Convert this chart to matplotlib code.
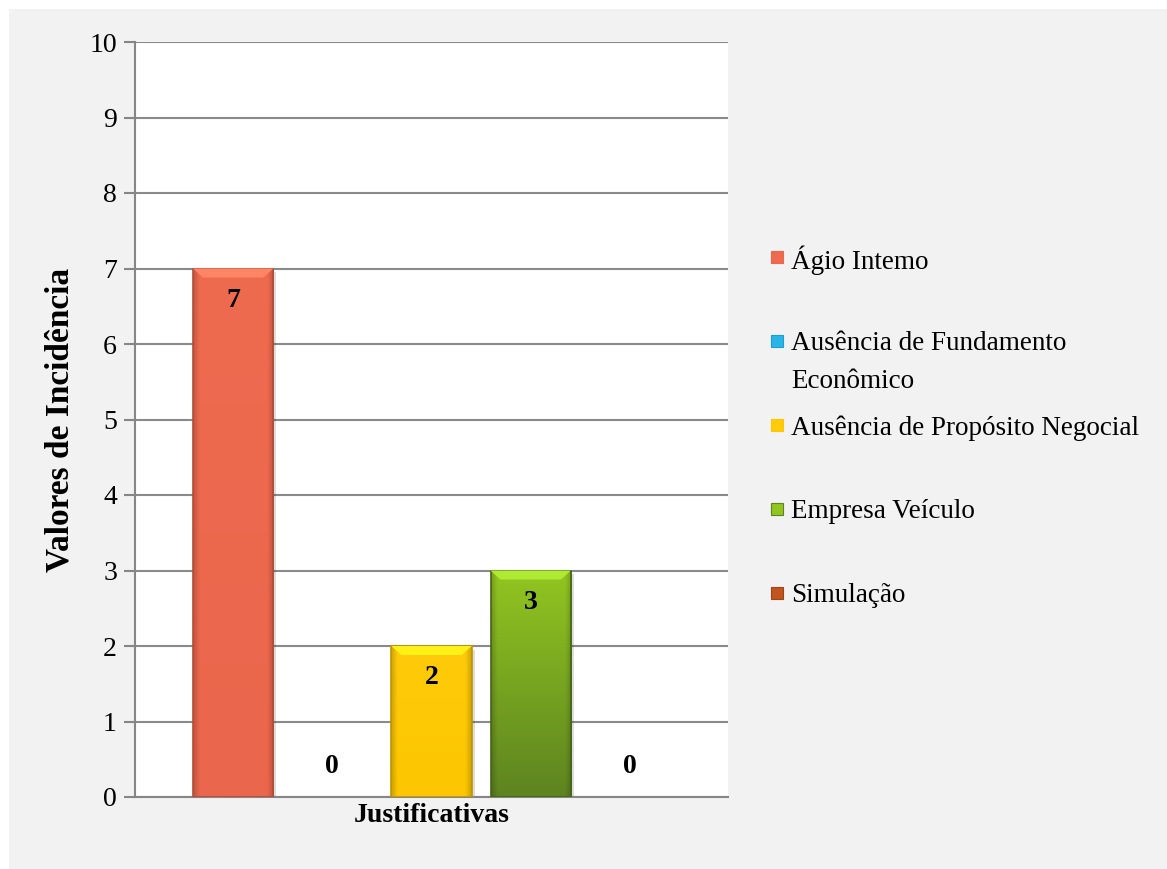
import numpy as np
import matplotlib
matplotlib.use("Agg")
import matplotlib.pyplot as plt
from matplotlib.patches import Rectangle, Polygon
from matplotlib.colors import to_rgb

# data
categorias = ["Ágio Intemo", "Ausência de Fundamento\nEconômico",
              "Ausência de Propósito Negocial", "Empresa Veículo", "Simulação"]
valores = [7, 0, 2, 3, 0]
cor_topo = ["#ef6b50", "#29b6e6", "#ffcb0a", "#92c521", "#c0561c"]
cor_base = ["#ea664c", "#1a9fd0", "#fcc600", "#5d8420", "#a0431a"]
yticks = list(range(0, 11))

plt.rcParams['font.family'] = ['Liberation Serif', 'DejaVu Serif']

W, H = 1167, 869
fig = plt.figure(figsize=(W / 100, H / 100), dpi=100, facecolor="#f2f2f2")
# white strips top/left like the screenshot
fig.patches.append(Rectangle((0, 1 - 9 / H), 1, 9 / H, transform=fig.transFigure,
                             facecolor="white", edgecolor="none", zorder=-5))
fig.patches.append(Rectangle((0, 0), 9 / W, 1, transform=fig.transFigure,
                             facecolor="white", edgecolor="none", zorder=-5))

ax = fig.add_axes([135 / W, 72 / H, 593 / W, 755 / H])
ax.set_facecolor("white")

x = np.arange(len(valores))
largura = 0.81
ax.set_xlim(-0.99, 4.99)
ax.set_ylim(0, 10)

for i, v in enumerate(valores):
    if v <= 0:
        continue
    x0 = x[i] - largura / 2
    # shadow
    ax.add_patch(Rectangle((x0 + 0.03, -0.05), largura, v, facecolor="#00000022",
                           edgecolor="none", zorder=2))
    # gradient body
    c1 = np.array(to_rgb(cor_topo[i]))
    c2 = np.array(to_rgb(cor_base[i]))
    t = np.linspace(0, 1, 100)[:, None]
    grad = c1 * (1 - t) + c2 * t
    s = np.linspace(-1, 1, 60)
    shade = 1 - 0.18 * np.clip((np.abs(s) - 0.85) / 0.15, 0, 1)
    img = grad[:, None, :] * shade[None, :, None]
    bar = Rectangle((x0, 0), largura, v, facecolor="none",
                    edgecolor=tuple(c2 * 0.75), linewidth=1.2, zorder=4)
    ax.add_patch(bar)
    im = ax.imshow(img, extent=(x0, x0 + largura, 0, v), origin="upper",
                   aspect="auto", zorder=3, interpolation="bilinear")
    im.set_clip_path(bar)
    # top bevel highlight
    bev = 0.12
    ax.add_patch(Polygon([(x0, v), (x0 + largura, v), (x0 + largura - 0.1, v - bev),
                          (x0 + 0.1, v - bev)], closed=True,
                         facecolor=tuple(np.minimum(c1 * 1.12 + 0.05, 1)),
                         edgecolor="none", zorder=4))

for i, v in enumerate(valores):
    ypos = v - 0.42 if v > 0 else 0.4
    ax.text(x[i], ypos, str(v), ha="center", va="center", fontsize=20,
            fontweight="bold", color="black", zorder=6)

ax.set_yticks(yticks)
ax.set_xticks([])
ax.tick_params(axis="y", labelsize=20, length=8, width=1.5, color="#868686", pad=5)
ax.yaxis.grid(True, color="#8a8a8a", linewidth=1.5)
ax.set_axisbelow(True)
for sp in ["top", "right"]:
    ax.spines[sp].set_visible(False)
for sp in ["left", "bottom"]:
    ax.spines[sp].set_color("#868686")
    ax.spines[sp].set_linewidth(1.5)

ax.set_ylabel("Valores de Incidência", fontsize=24, fontweight="bold", labelpad=10)
ax.set_xlabel("Justificativas", fontsize=20, fontweight="bold", labelpad=4)

# legend drawn by hand, entries evenly spaced by first line
leg_x = 771
leg_y0 = 257
passo = 84
for i, nome in enumerate(categorias):
    yc = leg_y0 + passo * i
    fig.patches.append(Rectangle((leg_x / W, 1 - (yc + 6) / H), 12 / W, 12 / H,
                                 transform=fig.transFigure, facecolor=cor_topo[i],
                                 edgecolor=cor_base[i], linewidth=0.8))
    for k, linha in enumerate(nome.split("\n")):
        fig.text((leg_x + 20) / W, 1 - (yc + 37 * k) / H, linha, fontsize=19.5,
                 ha="left", va="center_baseline")

fig.savefig("out.png", dpi=100, facecolor=fig.get_facecolor())
